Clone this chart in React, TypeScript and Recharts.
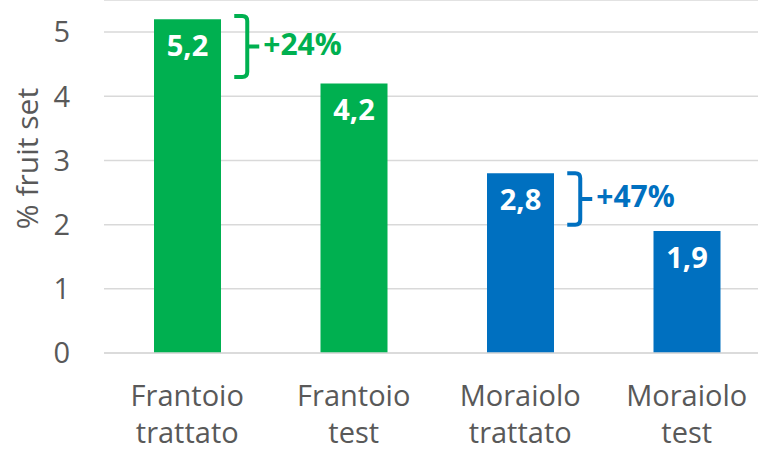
import React from 'react';
import {
  BarChart,
  Bar,
  Cell,
  XAxis,
  YAxis,
  CartesianGrid,
  LabelList,
  ReferenceArea,
} from 'recharts';

const categories = ['Frantoio trattato', 'Frantoio test', 'Moraiolo trattato', 'Moraiolo test'];
const fruitSet = [5.2, 4.2, 2.8, 1.9];
const varieties = ['Frantoio', 'Frantoio', 'Moraiolo', 'Moraiolo'];
const yTicks = [0, 1, 2, 3, 4, 5];

// brackets showing the gain of treated over test
const bracketCategories = ['Frantoio trattato', 'Moraiolo trattato'];
const bracketFrom = [4.3, 2.0];
const bracketTo = [5.25, 2.8];
const bracketText = ['+24%', '+47%'];

const GREEN = '#00B050';
const BLUE = '#0070C0';
const GREY_TEXT = '#595959';
const GRID = '#D9D9D9';
const FONT = '"Open Sans", Lato, sans-serif';

const colorFor = (variety: string) => (variety === 'Frantoio' ? GREEN : BLUE);

const data = categories.map((name, i) => ({ name, value: fruitSet[i], variety: varieties[i] }));

const brackets = bracketCategories.map((category, i) => ({
  category,
  from: bracketFrom[i],
  to: bracketTo[i],
  text: bracketText[i],
  color: colorFor(varieties[categories.indexOf(category)]),
}));

const CategoryTick = ({ x, y, payload }: any) => {
  const words = String(payload.value).split(' ');
  return (
    <g>
      {words.map((w, i) => (
        <text
          key={i}
          x={x}
          y={y + 53 + i * 37}
          textAnchor="middle"
          fill={GREY_TEXT}
          fontSize={29}
          fontFamily={FONT}
        >
          {w}
        </text>
      ))}
    </g>
  );
};

const BarValue = ({ x, y, width, value }: any) => (
  <text
    x={x + width / 2}
    y={y + 37}
    textAnchor="middle"
    fill="#fff"
    fontSize={29}
    fontWeight={700}
    fontFamily={FONT}
  >
    {Number(value).toFixed(1).replace('.', ',')}
  </text>
);

const makeBracket = (text: string, color: string) => (props: any) => {
  const { x, y, width, height } = props;
  const cx = x + width / 2;
  const left = cx + 47;
  const spine = cx + 60;
  const tip = cx + 72;
  const r = 5;
  const top = y;
  const bottom = y + height;
  const mid = (top + bottom) / 2;
  const d = [
    `M ${left} ${top}`,
    `L ${spine - r} ${top}`,
    `Q ${spine} ${top} ${spine} ${top + r}`,
    `L ${spine} ${bottom - r}`,
    `Q ${spine} ${bottom} ${spine - r} ${bottom}`,
    `L ${left} ${bottom}`,
    `M ${spine} ${mid}`,
    `L ${tip} ${mid}`,
  ].join(' ');
  return (
    <g>
      <path d={d} fill="none" stroke={color} strokeWidth={4} />
      <text
        x={tip + 4}
        y={mid + 8}
        fill={color}
        fontSize={30}
        fontWeight={700}
        fontFamily={FONT}
      >
        {text}
      </text>
    </g>
  );
};

const AxisTitle = ({ viewBox }: any) => {
  const cx = 26;
  const cy = viewBox.y + viewBox.height / 2 - 18;
  return (
    <text
      x={cx}
      y={cy}
      transform={`rotate(-90 ${cx} ${cy})`}
      textAnchor="middle"
      dominantBaseline="central"
      fill={GREY_TEXT}
      fontSize={30}
      fontFamily={FONT}
    >
      % fruit set
    </text>
  );
};

export default function App() {
  return (
    <div
      style={{
        position: 'absolute',
        left: 0,
        top: 0,
        width: 758,
        height: 451,
        overflow: 'hidden',
        background: '#fff',
      }}
    >
      <BarChart
        width={770}
        height={451}
        data={data}
        margin={{ top: 0, right: 0, left: 0, bottom: 0 }}
      >
        <CartesianGrid vertical={false} stroke={GRID} strokeWidth={1.5} />
        <XAxis
          dataKey="name"
          height={98}
          axisLine={{ stroke: GRID, strokeWidth: 1.5 }}
          tickLine={false}
          tickSize={0}
          tickMargin={0}
          interval={0}
          tick={<CategoryTick />}
        />
        <YAxis
          width={104}
          domain={[0, 5.5]}
          ticks={yTicks}
          axisLine={false}
          tickLine={false}
          tickSize={0}
          tickMargin={34}
          tick={{ fill: GREY_TEXT, fontSize: 29, fontFamily: FONT }}
          label={<AxisTitle />}
        />
        <Bar dataKey="value" barSize={67} isAnimationActive={false}>
          {data.map((d, i) => (
            <Cell key={i} fill={colorFor(d.variety)} />
          ))}
          <LabelList dataKey="value" content={<BarValue />} />
        </Bar>
        {brackets.map((b, i) => (
          <ReferenceArea
            key={i}
            x1={b.category}
            x2={b.category}
            y1={b.from}
            y2={b.to}
            ifOverflow="visible"
            shape={makeBracket(b.text, b.color)}
          />
        ))}
      </BarChart>
    </div>
  );
}
